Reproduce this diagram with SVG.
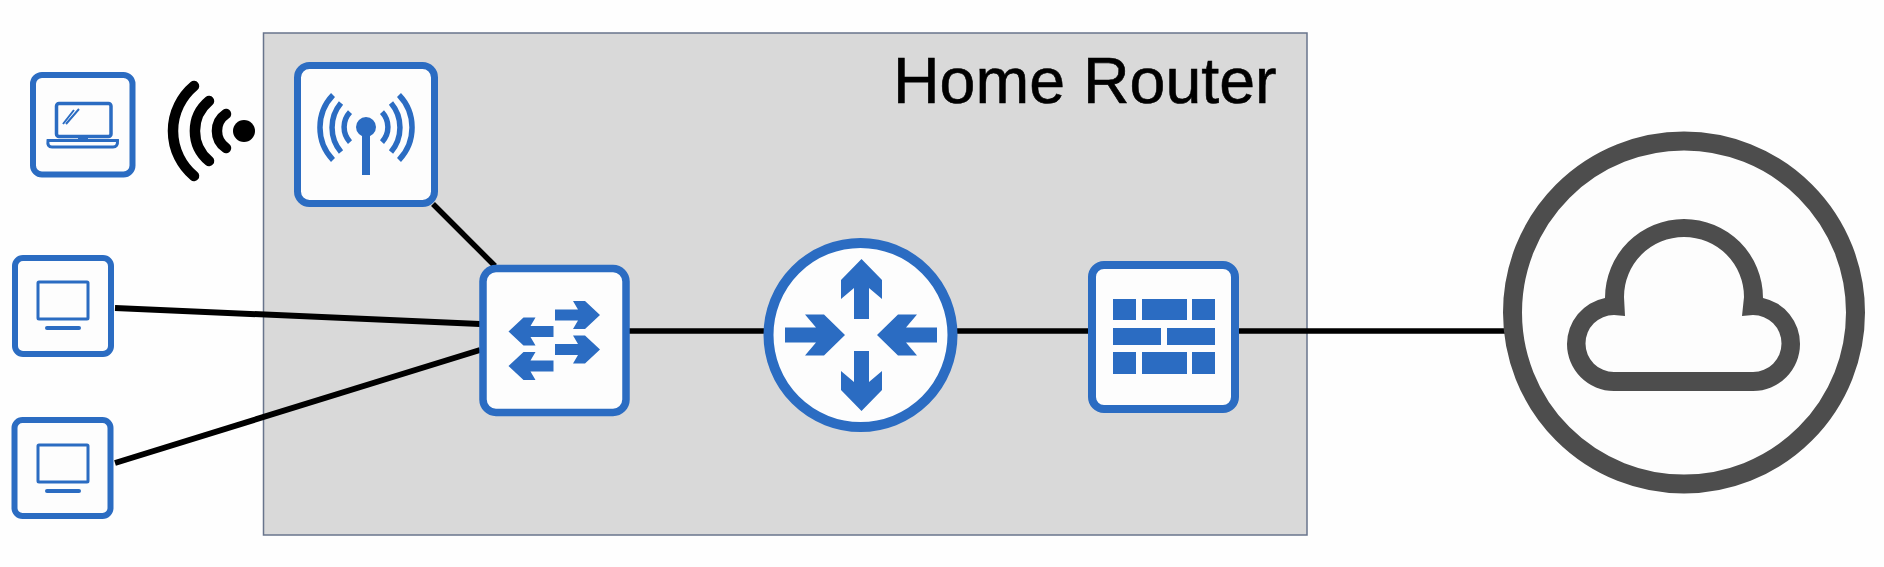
<svg xmlns="http://www.w3.org/2000/svg" width="1884" height="567" viewBox="0 0 1884 567">
<style>
.box{fill:#fdfdfd;stroke:#2b6cc2}
.ln{fill:none;stroke:#2b6cc2}
.bf{fill:#2b6cc2}
.w{fill:none;stroke:#000;stroke-width:10.500;stroke-linecap:round}
.c{stroke:#000;fill:none}
</style>
<defs>
<path id="sw" d="M0-5.500H23L18-14H30L45 0 30 14H18L23 5.500H0Z"/>
<path id="ra" d="M0-7.500H31L20-20.500H39L60 0 39 20.500H20L31 7.500H0Z"/>
</defs>
<rect width="1884" height="567" fill="#fefefe"/>
<g id="home-router">
<rect x="263.500" y="33" width="1043.500" height="502" fill="#d9d9d9" stroke="#68748c" stroke-width="1.500"/>
<text x="893" y="103" font-family="'Liberation Sans',Arial,sans-serif" font-size="64.500" fill="#000" stroke="#000" stroke-width="0.600">Home Router</text>
</g>
<g id="connectors">
<path class="c" stroke-width="6" d="M115 308 480 324"/>
<path class="c" stroke-width="6" d="M115 463 480 350"/>
<path class="c" stroke-width="5.500" d="M433 204 495 266"/>
<path class="c" stroke-width="5.500" d="M629 331H766M955 331H1090M1237 331H1505"/>
</g>
<g id="laptop">
<rect class="box" x="33" y="75" width="99.500" height="99.500" rx="9" stroke-width="6"/>
<rect class="ln" x="56.500" y="103.500" width="54.500" height="33" rx="2.500" stroke-width="3.500"/>
<path class="ln" stroke-width="2" d="M63 124 74 110M66 124 79 109"/>
<path class="ln" stroke-width="3" d="M48 140.500H117.500Q118 147 113 147H52Q47 147 48 140.500Z"/>
<path class="bf" d="M78 138H88V142H78Z"/>
</g>
<g id="wifi">
<circle cx="244" cy="131" r="11"/>
<path class="w" d="M226 114A20.500 20.500 0 0 0 226 148"/>
<path class="w" d="M209 101A39 39 0 0 0 209 161"/>
<path class="w" d="M194 86A58.700 58.700 0 0 0 194 176"/>
</g>
<g id="access-point">
<rect class="box" x="297.500" y="65.500" width="137" height="138" rx="12" stroke-width="7"/>
<circle class="bf" cx="366" cy="127" r="10"/>
<rect class="bf" x="362" y="130" width="8" height="45"/>
<path class="ln" stroke-width="5.500" d="M350 112A22 22 0 0 0 350 142M341 103A38 38 0 0 0 341 152M333 95A47 47 0 0 0 333 160M382 112A22 22 0 0 1 382 142M391 103A38 38 0 0 1 391 152M399 95A47 47 0 0 1 399 160"/>
</g>
<g id="pc-1">
<rect class="box" x="15" y="258" width="96" height="96" rx="8" stroke-width="6"/>
<rect class="ln" x="38" y="282" width="50" height="37" rx="1" stroke-width="3"/>
<path class="ln" stroke-width="4" stroke-linecap="round" d="M47 328H79"/>
</g>
<g id="pc-2">
<rect class="box" x="14.500" y="420" width="96" height="96" rx="8" stroke-width="6"/>
<rect class="ln" x="38" y="445" width="50" height="37" rx="1" stroke-width="3"/>
<path class="ln" stroke-width="4" stroke-linecap="round" d="M47 491H79"/>
</g>
<g id="switch">
<rect class="box" x="483" y="268.500" width="143" height="144" rx="13" stroke-width="7.500"/>
<use href="#sw" class="bf" transform="translate(555 315)"/>
<use href="#sw" class="bf" transform="translate(555 349.500)"/>
<use href="#sw" class="bf" transform="translate(553.500 331.500) scale(-1 1)"/>
<use href="#sw" class="bf" transform="translate(553.500 366) scale(-1 1)"/>
</g>
<g id="router">
<circle class="box" cx="860.500" cy="335" r="92" stroke-width="10"/>
<use href="#ra" class="bf" transform="translate(861.500 319) rotate(-90)"/>
<use href="#ra" class="bf" transform="translate(861.500 351) rotate(90)"/>
<use href="#ra" class="bf" transform="translate(785 335)"/>
<use href="#ra" class="bf" transform="translate(937 335) scale(-1 1)"/>
</g>
<g id="firewall">
<rect class="box" x="1092" y="265" width="143" height="144" rx="12" stroke-width="8"/>
<path class="bf" d="M1113 299h23v21h-23zM1142 299h45v21h-45zM1192 299h23v21h-23zM1113 328h48v17h-48zM1167 328h48v17h-48zM1113 352h23v22h-23zM1142 352h45v22h-45zM1192 352h23v22h-23z"/>
</g>
<g id="internet">
<circle cx="1684" cy="312.500" r="171.500" fill="#fdfdfd" stroke="#4d4d4d" stroke-width="19"/>
<path fill="#4d4d4d" fill-rule="evenodd" d="M1614 391A47 47 0 0 1 1567 344A47 47 0 0 1 1605 297.900A79 79 0 0 1 1763 297.900A47 47 0 0 1 1800 344A47 47 0 0 1 1753 391ZM1614 372H1753A28.500 28.500 0 0 0 1781.500 343.500A28.500 28.500 0 0 0 1753 315L1742 316L1744 297A60 60 0 0 0 1624 297L1625 316L1614 315A28.500 28.500 0 0 0 1585.500 343.500A28.500 28.500 0 0 0 1614 372Z"/>
</g>
</svg>
